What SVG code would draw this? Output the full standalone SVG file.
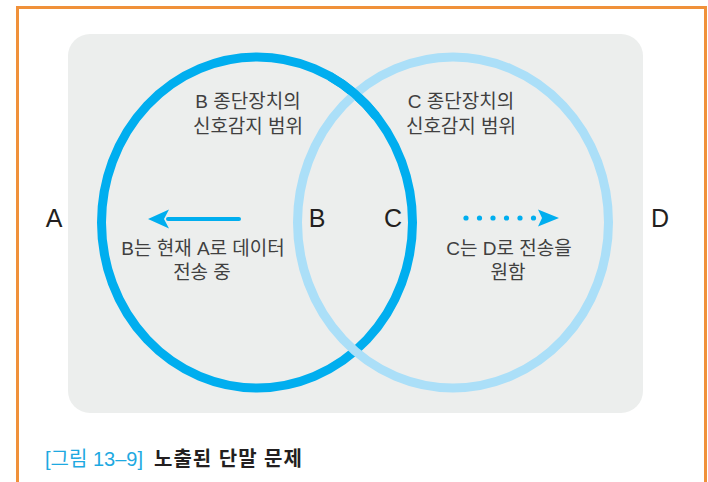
<svg xmlns="http://www.w3.org/2000/svg" width="708" height="482" viewBox="0 0 708 482">
<defs>
<style>
.lbl{font-family:"Liberation Sans","Noto Sans CJK KR",sans-serif;font-size:19px;fill:#404040;text-anchor:middle}
.big{font-family:"Liberation Sans",Arial,sans-serif;font-size:25px;fill:#231f20;text-anchor:middle}
.dark{fill:none;stroke:#00aeef;stroke-width:9}
.light{fill:none;stroke:#abdff8;stroke-width:9}
</style>
</defs>
<rect x="0" y="0" width="708" height="482" fill="#ffffff"/>
<path d="M17.5,482 V7.5 H705.5 V482" fill="none" stroke="#f0913a" stroke-width="3"/>
<rect x="68" y="34" width="575" height="379" rx="22" fill="#eceeed"/>
<g id="rangeB"><ellipse class="dark" cx="257" cy="222.5" rx="155.5" ry="165.5"/></g>
<g id="rangeC"><ellipse class="light" cx="453" cy="222.5" rx="155.5" ry="165.5"/></g>
<path class="dark" d="M330,76.4 A155.5 165.5 0 0 1 376.1,116.1"/>
<g id="labelB"><text class="lbl" x="248" y="108">B 종단장치의</text><text class="lbl" x="248" y="133">신호감지 범위</text></g>
<g id="labelC"><text class="lbl" x="461" y="108">C 종단장치의</text><text class="lbl" x="461" y="133">신호감지 범위</text></g>
<g id="nodeA"><text class="big" x="54" y="227">A</text></g>
<g id="nodeB"><text class="big" x="317" y="227">B</text></g>
<g id="nodeC"><text class="big" x="393" y="227">C</text></g>
<g id="nodeD"><text class="big" x="660" y="227">D</text></g>
<g id="connectors">
<line x1="239" y1="219" x2="168" y2="219" stroke="#00aeef" stroke-width="4" stroke-linecap="round"/>
<path d="M148,219 L169,209.5 L164,219 L169,228.5 Z" fill="#00aeef"/>
<g fill="#00aeef"><circle cx="466" cy="218" r="2.6"/><circle cx="479.5" cy="218" r="2.6"/><circle cx="493" cy="218" r="2.6"/><circle cx="506.5" cy="218" r="2.6"/><circle cx="520" cy="218" r="2.6"/><circle cx="533.5" cy="218" r="2.6"/></g>
<path d="M559,218 L538,209.5 L542,218 L538,226.5 Z" fill="#00aeef"/>
</g>
<g id="noteB"><text class="lbl" x="203" y="255">B는 현재 A로 데이터</text><text class="lbl" x="202" y="279">전송 중</text></g>
<g id="noteC"><text class="lbl" x="509" y="255">C는 D로 전송을</text><text class="lbl" x="508" y="279">원함</text></g>
<g id="caption">
<text x="45" y="466" font-family="'Liberation Sans','Noto Sans CJK KR',sans-serif" font-size="20" fill="#1ea9e1">[그림 13–9]</text>
<text x="154" y="466" font-family="'Liberation Sans','Noto Sans CJK KR',sans-serif" font-size="20" font-weight="bold" fill="#231f20" letter-spacing="1">노출된 단말 문제</text>
</g>
</svg>
